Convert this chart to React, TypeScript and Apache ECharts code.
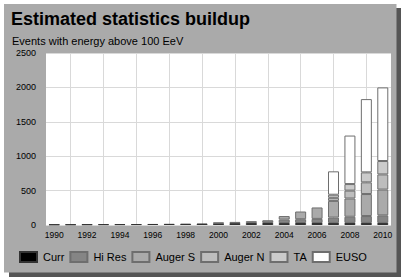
import React, { useEffect, useRef } from "react";
import * as echarts from "echarts";

const years = ["1990","1991","1992","1993","1994","1995","1996","1997","1998","1999","2000","2001","2002","2003","2004","2005","2006","2007","2008","2009","2010"];
const curr = [8, 9, 10, 11, 12, 13, 15, 17, 19, 22, 25, 27, 28, 29, 28, 29, 29, 30, 30, 30, 30];
const hiRes = [0, 0, 0, 0, 0, 0, 0, 0, 0, 0, 10, 18, 28, 40, 50, 55, 60, 78, 90, 100, 110];
const augerS = [0, 0, 0, 0, 0, 0, 0, 0, 0, 0, 0, 0, 0, 0, 52, 112, 166, 242, 265, 320, 375];
const augerN = [0, 0, 0, 0, 0, 0, 0, 0, 0, 0, 0, 0, 0, 0, 0, 0, 0, 45, 115, 170, 220];
const ta = [0, 0, 0, 0, 0, 0, 0, 0, 0, 0, 0, 0, 0, 0, 0, 0, 0, 45, 95, 145, 195];
const euso = [0, 0, 0, 0, 0, 0, 0, 0, 0, 0, 0, 0, 0, 0, 0, 0, 0, 340, 705, 1065, 1070];

const seriesNames = ["Curr", "Hi Res", "Auger S", "Auger N", "TA", "EUSO"];
const seriesData = [curr, hiRes, augerS, augerN, ta, euso];
const seriesColors = ["#000000", "#858585", "#aaaaaa", "#bdbdbd", "#cbcbcb", "#ffffff"];

const titleText = "Estimated statistics buildup";
const subtitleText = "Events with energy above 100 EeV";

const FONT = "Liberation Sans, Arial, Helvetica, sans-serif";

export default function App() {
  const ref = useRef<HTMLDivElement>(null);
  useEffect(() => {
    if (!ref.current) return;
    const chart = echarts.init(ref.current, undefined, { renderer: "svg" });
    chart.setOption({
      animation: false,
      backgroundColor: "#ffffff",
      textStyle: { fontFamily: FONT },
      graphic: [
        { type: "rect", z: -20, silent: true, shape: { x: 9, y: 8, width: 392, height: 269 }, style: { fill: "#555555" } },
        { type: "rect", z: -10, silent: true, shape: { x: 4, y: 4, width: 392.5, height: 268.5 }, style: { fill: "#aaaaaa" } },
      ],
      title: [
        { text: titleText, left: 11, top: 10, padding: 0, textStyle: { fontFamily: FONT, fontSize: 18, fontWeight: "bold", color: "#000" } },
        { text: subtitleText, left: 12, top: 35, padding: 0, textStyle: { fontFamily: FONT, fontSize: 11, fontWeight: "normal", color: "#000" } },
      ],
      legend: {
        left: 19,
        top: 251,
        padding: 0,
        itemWidth: 17,
        itemHeight: 10,
        itemGap: 5,
        icon: "rect",
        data: seriesNames,
        textStyle: { fontFamily: FONT, fontSize: 11, color: "#000", lineHeight: 10, padding: [0, 0, 0, 1] },
      },
      grid: {
        left: 46,
        right: 11,
        top: 53,
        bottom: 52,
        show: true,
        backgroundColor: "#ffffff",
        borderWidth: 0,
        containLabel: false,
      },
      xAxis: {
        type: "category",
        data: years,
        boundaryGap: true,
        axisLine: { show: false },
        axisTick: { show: false },
        axisLabel: { interval: 1, fontSize: 8.5, color: "#000", margin: 5, fontFamily: FONT },
        splitLine: {
          show: true,
          alignWithLabel: true,
          interval: (i: number) => i % 2 === 1,
          lineStyle: { color: "#d9d9d9", width: 1 },
        },
      },
      yAxis: {
        type: "value",
        min: 0,
        max: 2500,
        interval: 500,
        axisLine: { show: false },
        axisTick: { show: false },
        axisLabel: { fontSize: 9, color: "#000", margin: 10, fontFamily: FONT, formatter: (v: number) => String(v) },
        splitLine: { show: true, lineStyle: { color: "#d9d9d9", width: 1 } },
      },
      series: seriesNames.map((name, k) => ({
        name,
        type: "bar",
        stack: "total",
        barWidth: 11,
        data: seriesData[k].map((v) => (v > 0 ? v : "-")),
        itemStyle: { color: seriesColors[k], borderColor: k === 0 ? "#333333" : "#6e6e6e", borderWidth: 1 },
      })),
    });
    return () => chart.dispose();
  }, []);
  return <div ref={ref} style={{ position: "fixed", left: 0, top: 0, width: 402, height: 277 }} />;
}
